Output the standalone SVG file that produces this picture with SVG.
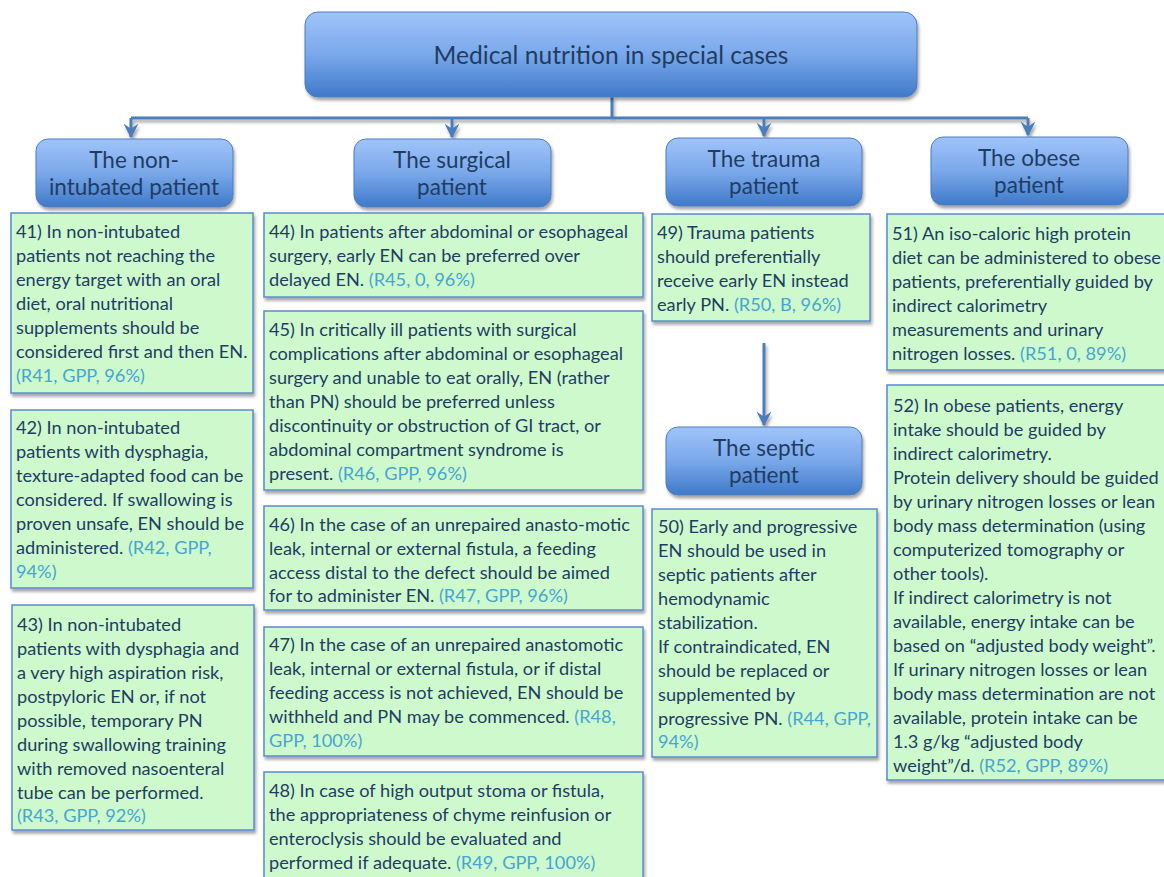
<svg xmlns="http://www.w3.org/2000/svg" width="1164" height="877" viewBox="0 0 1164 877">
<defs>
<linearGradient id="blueGrad" x1="0" y1="0" x2="0" y2="1">
<stop offset="0" stop-color="#a0c4fa"/>
<stop offset="0.5" stop-color="#7aa8ea"/>
<stop offset="1" stop-color="#3f79c9"/>
</linearGradient>
<filter id="shadow" x="-10%" y="-10%" width="120%" height="130%">
<feDropShadow dx="1.5" dy="3" stdDeviation="1.8" flood-color="#000" flood-opacity="0.35"/>
</filter>
<marker id="arrow" viewBox="0 0 10 10" refX="9" refY="5" markerWidth="5" markerHeight="5" orient="auto" markerUnits="strokeWidth">
<path d="M0,0 L10,5 L0,10 L3.5,5 z" fill="#4a7ebb"/>
</marker>
<style>
.hdr{fill:url(#blueGrad);stroke:#4a7ebb;stroke-width:1;filter:url(#shadow)}
.hdrt{font-family:Lato,"Liberation Sans",sans-serif;font-size:22.5px;fill:#1f3d63;text-anchor:middle}
.box{fill:#cdf9cd;stroke:#5a8ad0;stroke-width:1.5;filter:url(#shadow)}
.t{font-family:Lato,"Liberation Sans",sans-serif;font-size:18.2px;fill:#1f3d63}
.r{fill:#45a6d2}
.conn{fill:none;stroke:#4a7ebb;stroke-width:3}
</style>
</defs>
<rect width="1164" height="877" fill="#ffffff"/>

<g id="connectors" filter="url(#shadow)">
<path class="conn" d="M612,97 V118"/>
<path class="conn" d="M131,118 H1028"/>
<path class="conn" d="M131,118 V137" marker-end="url(#arrow)"/>
<path class="conn" d="M452,118 V137" marker-end="url(#arrow)"/>
<path class="conn" d="M764,118 V136" marker-end="url(#arrow)"/>
<path class="conn" d="M1028,118 V135" marker-end="url(#arrow)"/>
<path class="conn" d="M764,343 V425" marker-end="url(#arrow)"/>
</g>

<g id="title">
<rect class="hdr" x="305" y="12" width="612" height="85" rx="13"/>
<text class="hdrt" x="611" y="64" style="font-size:24.6px">Medical nutrition in special cases</text>
</g>

<g id="hdr-nonintubated">
<rect class="hdr" x="36" y="139" width="197" height="68" rx="12"/>
<text class="hdrt" x="134" y="168">The non-</text>
<text class="hdrt" x="134" y="195">intubated patient</text>
</g>
<g id="hdr-surgical">
<rect class="hdr" x="354" y="139" width="197" height="68" rx="12"/>
<text class="hdrt" x="452" y="168">The surgical</text>
<text class="hdrt" x="452" y="195">patient</text>
</g>
<g id="hdr-trauma">
<rect class="hdr" x="666" y="138" width="196" height="68" rx="12"/>
<text class="hdrt" x="764" y="167">The trauma</text>
<text class="hdrt" x="764" y="194">patient</text>
</g>
<g id="hdr-obese">
<rect class="hdr" x="931" y="137" width="197" height="68" rx="12"/>
<text class="hdrt" x="1029" y="166">The obese</text>
<text class="hdrt" x="1029" y="193">patient</text>
</g>
<g id="hdr-septic">
<rect class="hdr" x="666" y="427" width="196" height="68" rx="12"/>
<text class="hdrt" x="764" y="456">The septic</text>
<text class="hdrt" x="764" y="483">patient</text>
</g>

<g id="box41">
<rect class="box" x="11" y="213" width="242" height="180"/>
<text class="t" x="16" y="238">41) In non-intubated</text>
<text class="t" x="16" y="262">patients not reaching the</text>
<text class="t" x="16" y="286">energy target with an oral</text>
<text class="t" x="16" y="310">diet, oral nutritional</text>
<text class="t" x="16" y="334">supplements should be</text>
<text class="t" x="16" y="358">considered first and then EN.</text>
<text class="t r" x="16" y="382">(R41, GPP, 96%)</text>
</g>
<g id="box42">
<rect class="box" x="11" y="410" width="242" height="178"/>
<text class="t" x="16" y="434">42) In non-intubated</text>
<text class="t" x="16" y="458">patients with dysphagia,</text>
<text class="t" x="16" y="482">texture-adapted food can be</text>
<text class="t" x="16" y="506">considered. If swallowing is</text>
<text class="t" x="16" y="530">proven unsafe, EN should be</text>
<text class="t" x="16" y="554">administered. <tspan class="r">(R42, GPP,</tspan></text>
<text class="t r" x="16" y="578">94%)</text>
</g>
<g id="box43">
<rect class="box" x="12" y="605" width="242" height="225"/>
<text class="t" x="17" y="631">43) In non-intubated</text>
<text class="t" x="17" y="655">patients with dysphagia and</text>
<text class="t" x="17" y="679">a very high aspiration risk,</text>
<text class="t" x="17" y="703">postpyloric EN or, if not</text>
<text class="t" x="17" y="727">possible, temporary PN</text>
<text class="t" x="17" y="751">during swallowing training</text>
<text class="t" x="17" y="775">with removed nasoenteral</text>
<text class="t" x="17" y="799">tube can be performed.</text>
<text class="t r" x="17" y="822">(R43, GPP, 92%)</text>
</g>

<g id="box44">
<rect class="box" x="264" y="213" width="379" height="84"/>
<text class="t" x="269" y="238">44) In patients after abdominal or esophageal</text>
<text class="t" x="269" y="262">surgery, early EN can be preferred over</text>
<text class="t" x="269" y="286">delayed EN. <tspan class="r">(R45, 0, 96%)</tspan></text>
</g>
<g id="box45">
<rect class="box" x="264" y="311" width="379" height="179"/>
<text class="t" x="269" y="336">45) In critically ill patients with surgical</text>
<text class="t" x="269" y="360">complications after abdominal or esophageal</text>
<text class="t" x="269" y="384">surgery and unable to eat orally, EN (rather</text>
<text class="t" x="269" y="408">than PN) should be preferred unless</text>
<text class="t" x="269" y="432">discontinuity or obstruction of GI tract, or</text>
<text class="t" x="269" y="456">abdominal compartment syndrome is</text>
<text class="t" x="269" y="480">present. <tspan class="r">(R46, GPP, 96%)</tspan></text>
</g>
<g id="box46">
<rect class="box" x="264" y="506" width="379" height="104"/>
<text class="t" x="269" y="531">46) In the case of an unrepaired anasto-motic</text>
<text class="t" x="269" y="555">leak, internal or external fistula, a feeding</text>
<text class="t" x="269" y="579">access distal to the defect should be aimed</text>
<text class="t" x="269" y="602">for to administer EN. <tspan class="r">(R47, GPP, 96%)</tspan></text>
</g>
<g id="box47">
<rect class="box" x="264" y="627" width="379" height="129"/>
<text class="t" x="269" y="651">47) In the case of an unrepaired anastomotic</text>
<text class="t" x="269" y="675">leak, internal or external fistula, or if distal</text>
<text class="t" x="269" y="699">feeding access is not achieved, EN should be</text>
<text class="t" x="269" y="723">withheld and PN may be commenced. <tspan class="r">(R48,</tspan></text>
<text class="t r" x="269" y="747">GPP, 100%)</text>
</g>
<g id="box48">
<rect class="box" x="264" y="772" width="379" height="110"/>
<text class="t" x="269" y="797">48) In case of high output stoma or fistula,</text>
<text class="t" x="269" y="821">the appropriateness of chyme reinfusion or</text>
<text class="t" x="269" y="845">enteroclysis should be evaluated and</text>
<text class="t" x="269" y="869">performed if adequate. <tspan class="r">(R49, GPP, 100%)</tspan></text>
</g>

<g id="box49">
<rect class="box" x="652" y="214" width="218" height="107"/>
<text class="t" x="657" y="239">49) Trauma patients</text>
<text class="t" x="657" y="263">should preferentially</text>
<text class="t" x="657" y="287">receive early EN instead</text>
<text class="t" x="657" y="311">early PN. <tspan class="r">(R50, B, 96%)</tspan></text>
</g>
<g id="box50">
<rect class="box" x="652" y="509" width="225" height="248"/>
<text class="t" x="658" y="533">50) Early and progressive</text>
<text class="t" x="658" y="557">EN should be used in</text>
<text class="t" x="658" y="581">septic patients after</text>
<text class="t" x="658" y="605">hemodynamic</text>
<text class="t" x="658" y="629">stabilization.</text>
<text class="t" x="658" y="653">If contraindicated, EN</text>
<text class="t" x="658" y="677">should be replaced or</text>
<text class="t" x="658" y="701">supplemented by</text>
<text class="t" x="658" y="725">progressive PN. <tspan class="r">(R44, GPP,</tspan></text>
<text class="t r" x="658" y="748">94%)</text>
</g>

<g id="box51">
<rect class="box" x="887" y="214" width="290" height="156"/>
<text class="t" x="892" y="240">51) An iso-caloric high protein</text>
<text class="t" x="892" y="264">diet can be administered to obese</text>
<text class="t" x="892" y="288">patients, preferentially guided by</text>
<text class="t" x="892" y="312">indirect calorimetry</text>
<text class="t" x="892" y="336">measurements and urinary</text>
<text class="t" x="892" y="360">nitrogen losses. <tspan class="r">(R51, 0, 89%)</tspan></text>
</g>
<g id="box52">
<rect class="box" x="887" y="385" width="290" height="395"/>
<text class="t" x="893" y="412">52) In obese patients, energy</text>
<text class="t" x="893" y="436">intake should be guided by</text>
<text class="t" x="893" y="460">indirect calorimetry.</text>
<text class="t" x="893" y="484">Protein delivery should be guided</text>
<text class="t" x="893" y="508">by urinary nitrogen losses or lean</text>
<text class="t" x="893" y="532">body mass determination (using</text>
<text class="t" x="893" y="556">computerized tomography or</text>
<text class="t" x="893" y="580">other tools).</text>
<text class="t" x="893" y="604">If indirect calorimetry is not</text>
<text class="t" x="893" y="628">available, energy intake can be</text>
<text class="t" x="893" y="652">based on “adjusted body weight”.</text>
<text class="t" x="893" y="676">If urinary nitrogen losses or lean</text>
<text class="t" x="893" y="700">body mass determination are not</text>
<text class="t" x="893" y="724">available, protein intake can be</text>
<text class="t" x="893" y="748">1.3 g/kg “adjusted body</text>
<text class="t" x="893" y="772">weight”/d. <tspan class="r">(R52, GPP, 89%)</tspan></text>
</g>
</svg>
